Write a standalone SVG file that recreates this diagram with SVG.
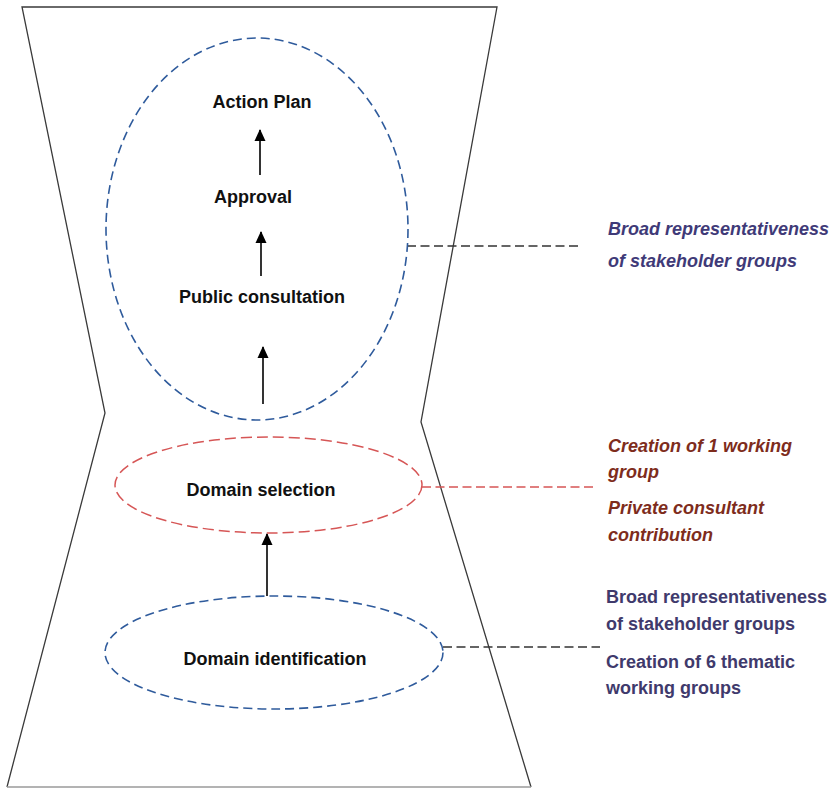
<svg xmlns="http://www.w3.org/2000/svg" width="836" height="789" viewBox="0 0 836 789">
  <style>
    .outline { fill: none; stroke: #3a3a3a; stroke-width: 1.3; }
    .blue { fill: none; stroke: #2f5b9c; stroke-width: 1.6; stroke-dasharray: 9 5; }
    .red { fill: none; stroke: #d65656; stroke-width: 1.5; stroke-dasharray: 11 5; }
    .lead { fill: none; stroke: #333; stroke-width: 1.5; stroke-dasharray: 9 4.5; }
    .leadred { fill: none; stroke: #d65656; stroke-width: 1.5; stroke-dasharray: 9 4.5; }
    .arrow { stroke: #000; stroke-width: 1.6; marker-end: url(#ah); }
    .lbl { font-family: "Liberation Sans", Arial, sans-serif; font-weight: bold; font-size: 18px; fill: #111; text-anchor: middle; }
    .note { font-family: "Liberation Sans", Arial, sans-serif; font-weight: bold; font-size: 18px; }
    .it { font-style: italic; }
    .indigo { fill: #3f3a78; }
    .brick { fill: #7e2c1c; }
    .slate { fill: #3f3a6c; }
  </style>
  <defs>
    <marker id="ah" markerUnits="userSpaceOnUse" markerWidth="12" markerHeight="12" viewBox="0 0 12 12" refX="11" refY="6" orient="auto">
      <path d="M0,0.5 L12,6 L0,11.5 Z" fill="#000"/>
    </marker>
  </defs>

  <g id="outline">
    <polyline class="outline" points="7,787 105,413 22,7 497,7 421,422 531,787"/>
    <line x1="7" y1="787" x2="531" y2="787" stroke="#9a9a9a" stroke-width="1.5"/>
  </g>

  <g id="connectors">
    <line class="arrow" x1="260" y1="175" x2="260" y2="130"/>
    <line class="arrow" x1="261" y1="276" x2="261" y2="232"/>
    <line class="arrow" x1="263" y1="404" x2="263" y2="347"/>
    <line class="arrow" x1="267" y1="596" x2="267" y2="534"/>
    <line class="lead" x1="407" y1="246" x2="580" y2="246"/>
    <line class="leadred" x1="422" y1="487" x2="594" y2="487"/>
    <line class="lead" x1="443" y1="647" x2="600" y2="647"/>
  </g>

  <g id="stage-group">
    <ellipse class="blue" cx="257" cy="229" rx="151" ry="191"/>
  </g>
  <g id="action-plan">
    <text class="lbl" x="262" y="108">Action Plan</text>
  </g>
  <g id="approval">
    <text class="lbl" x="253" y="203">Approval</text>
  </g>
  <g id="public-consultation">
    <text class="lbl" x="262" y="303">Public consultation</text>
  </g>
  <g id="domain-selection">
    <ellipse class="red" cx="268.5" cy="485" rx="153.5" ry="48"/>
    <text class="lbl" x="261" y="496">Domain selection</text>
  </g>
  <g id="domain-identification">
    <ellipse class="blue" cx="274" cy="652.5" rx="169" ry="56.5"/>
    <text class="lbl" x="275" y="665">Domain identification</text>
  </g>

  <g id="note-top">
    <text class="note it indigo" x="608" y="235">Broad representativeness</text>
    <text class="note it indigo" x="608" y="267">of stakeholder groups</text>
  </g>
  <g id="note-middle">
    <text class="note it brick" x="608" y="452">Creation of 1 working</text>
    <text class="note it brick" x="608" y="478">group</text>
    <text class="note it brick" x="608" y="514">Private consultant</text>
    <text class="note it brick" x="608" y="541">contribution</text>
  </g>
  <g id="note-bottom">
    <text class="note slate" x="606" y="603">Broad representativeness</text>
    <text class="note slate" x="606" y="630">of stakeholder groups</text>
    <text class="note slate" x="606" y="668">Creation of 6 thematic</text>
    <text class="note slate" x="606" y="694">working groups</text>
  </g>
</svg>
